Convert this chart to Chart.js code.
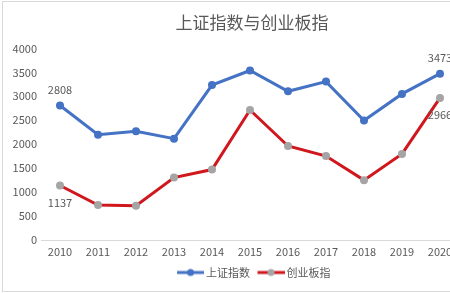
<!DOCTYPE html>
<html>
<head>
<meta charset="utf-8">
<script src="https://cdn.jsdelivr.net/npm/chart.js@4/dist/chart.umd.min.js"></script>
<style>
    html, body { margin: 0; padding: 0; background: #fff; overflow: hidden; }
    #frame {
        position: absolute; left: 2px; top: 1px;
        width: 498px; height: 289px;
        border: 1px solid #d9d9d9;
        background: #fff;
    }
</style>
</head>
<body>
<div id="frame"><canvas id="chart" width="498" height="289"></canvas></div>
<script>
const years = ['2010', '2011', '2012', '2013', '2014', '2015', '2016', '2017', '2018', '2019', '2020'];
const shIndex = [2808, 2199, 2269, 2116, 3235, 3539, 3104, 3307, 2494, 3050, 3473];
const gemIndex = [1137, 729, 714, 1304, 1471, 2714, 1963, 1753, 1250, 1798, 2966];
const yTicks = [0, 500, 1000, 1500, 2000, 2500, 3000, 3500, 4000];
// which points carry a value label, and on which side
const shLabels = { 0: 'above', 10: 'above' };
const gemLabels = { 0: 'below', 10: 'below' };

const textGray = '#595959';
const blue = '#4472c4';
const red = '#d0171d';
const markerGray = '#a5a5a5';
const font = '"Noto Sans CJK SC", "Noto Sans", sans-serif';

// legend swatch: short line with a dot, transparent strip on the left as spacing
function legendIcon(lineColor, dotColor) {
    const c = document.createElement('canvas');
    c.width = 34;
    c.height = 10;
    const g = c.getContext('2d');
    g.strokeStyle = lineColor;
    g.lineWidth = 3;
    g.beginPath();
    g.moveTo(7, 5);
    g.lineTo(34, 5);
    g.stroke();
    g.fillStyle = dotColor;
    g.beginPath();
    g.arc(20.5, 5, 3.5, 0, Math.PI * 2);
    g.fill();
    return c;
}

const valueLabels = {
    id: 'valueLabels',
    afterDatasetsDraw(chart) {
        const ctx = chart.ctx;
        ctx.save();
        ctx.font = '11px ' + font;
        ctx.fillStyle = textGray;
        ctx.textAlign = 'center';
        ctx.textBaseline = 'middle';
        [shLabels, gemLabels].forEach((which, di) => {
            const meta = chart.getDatasetMeta(di);
            const data = chart.data.datasets[di].data;
            Object.keys(which).forEach((k) => {
                const pt = meta.data[k];
                const dy = which[k] === 'above' ? -16 : 17;
                ctx.fillText(String(data[k]), pt.x, pt.y + dy);
            });
        });
        ctx.restore();
    },
};

new Chart(document.getElementById('chart'), {
    type: 'line',
    data: {
        labels: years,
        datasets: [
            {
                label: '上证指数',
                data: shIndex,
                borderColor: blue,
                backgroundColor: blue,
                pointBackgroundColor: blue,
                pointBorderColor: blue,
                borderWidth: 3,
                pointRadius: 4,
                pointBorderWidth: 0,
                tension: 0,
            },
            {
                label: '创业板指',
                data: gemIndex,
                borderColor: red,
                backgroundColor: red,
                pointBackgroundColor: markerGray,
                pointBorderColor: markerGray,
                borderWidth: 3,
                pointRadius: 4,
                pointBorderWidth: 0,
                tension: 0,
            },
        ],
    },
    options: {
        responsive: false,
        animation: false,
        layout: { padding: { left: 0, right: 0, top: 0, bottom: 3 } },
        plugins: {
            title: {
                display: true,
                text: '上证指数与创业板指',
                color: textGray,
                font: { family: font, size: 17, weight: 'normal' },
                padding: { top: 10, bottom: 16 },
            },
            legend: {
                position: 'bottom',
                labels: {
                    color: textGray,
                    font: { family: font, size: 11 },
                    usePointStyle: true,
                    pointStyleWidth: 27,
                    boxHeight: 10,
                    padding: 4,
                    generateLabels(chart) {
                        return chart.data.datasets.map((ds, i) => ({
                            text: ds.label,
                            fontColor: textGray,
                            pointStyle: legendIcon(ds.borderColor, ds.pointBackgroundColor),
                            datasetIndex: i,
                            lineWidth: 0,
                        }));
                    },
                },
            },
            tooltip: { enabled: false },
        },
        scales: {
            x: {
                offset: true,
                afterFit(scale) { scale.height = 23; },
                grid: { display: false, offset: true, drawTicks: false, tickLength: 0 },
                border: { display: true, color: '#d9d9d9', width: 1 },
                ticks: {
                    color: textGray,
                    font: { family: font, size: 11 },
                    padding: 5,
                    maxRotation: 0,
                    autoSkip: false,
                },
            },
            y: {
                min: 0,
                max: 4000,
                afterFit(scale) { scale.width = 38; },
                afterBuildTicks(scale) { scale.ticks = yTicks.map((v) => ({ value: v })); },
                grid: { display: false, drawTicks: false, tickLength: 0 },
                border: { display: false },
                ticks: {
                    color: textGray,
                    font: { family: font, size: 11 },
                    padding: 4,
                    callback: (v) => String(v),
                },
            },
            // empty right-hand axis, only there to leave the right margin
            spacer: {
                position: 'right',
                min: 0,
                max: 4000,
                afterFit(scale) { scale.width = 42; },
                grid: { display: false, drawTicks: false, tickLength: 0 },
                border: { display: false },
                ticks: { display: false },
            },
        },
    },
    plugins: [valueLabels],
});
</script>
</body>
</html>
